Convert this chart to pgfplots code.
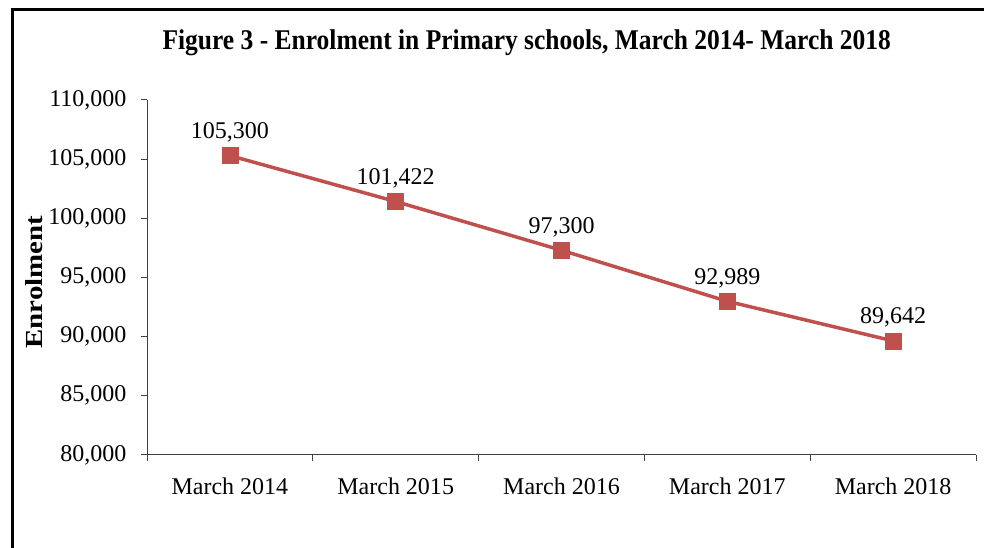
\documentclass[border=0pt]{standalone}
\usepackage{pgfplots}
\pgfplotsset{compat=1.18}
\usepackage{fontspec}
\setmainfont{Liberation Serif}
\definecolor{linered}{HTML}{C0504D}
\definecolor{axgray}{HTML}{404040}
\begin{document}
\begin{tikzpicture}[x=1pt,y=1pt]
\path[use as bounding box] (0,0) rectangle (984,548);
\draw[line width=3pt, black] (12.5,0) -- (12.5,538.5) -- (984,538.5);
\begin{axis}[
  at={(147pt,93pt)}, anchor=south west,
  scale only axis, width=829pt, height=355pt,
  xmin=-0.5, xmax=4.5, ymin=80000, ymax=110000,
  axis x line=bottom, axis y line=left,
  axis line style={-, axgray, line width=1pt},
  tick style={axgray, line width=1pt},
  tick align=outside, major tick length=6pt,
  xtick={-0.5,0.5,1.5,2.5,3.5,4.5}, xticklabels={},
  extra x ticks={0,1,2,3,4},
  extra x tick labels={March 2014,March 2015,March 2016,March 2017,March 2018},
  extra x tick style={major tick length=0pt},
  ytick={80000,85000,90000,95000,100000,105000,110000},
  scaled y ticks=false,
  /pgf/number format/fixed,
  /pgf/number format/1000 sep={,},
  /pgf/number format/assume math mode=true,
  tick label style={font=\fontsize{24}{28}\selectfont, text=black},
  xticklabel style={yshift=-19pt},
  yticklabel style={xshift=-11pt},
  ylabel={\scalebox{1.18}[1]{Enrolment}},
  ylabel style={at={(axis description cs:-0.136,0.487)}, anchor=center, font=\fontsize{24.5}{28}\selectfont\bfseries},
  title={\scalebox{1}[1.12]{Figure 3 - Enrolment in Primary schools, March 2014- March 2018}},
  title style={at={(axis description cs:0.458,1.124)}, anchor=base, font=\fontsize{25.5}{30}\selectfont\bfseries},
  nodes near coords,
  point meta=explicit symbolic,
  every node near coord/.append style={anchor=base, yshift=17pt, font=\fontsize{24}{28}\selectfont, text=black},
  clip=false,
]
\addplot[linered, line width=3.5pt, mark=square*, mark size=8pt, mark options={fill=linered, draw=linered, line width=0.5pt}]
  table[meta=label] {
x y label
0 105300 105,300
1 101422 101,422
2 97300 97,300
3 92989 92,989
4 89642 89,642
};
\end{axis}
\end{tikzpicture}
\end{document}
